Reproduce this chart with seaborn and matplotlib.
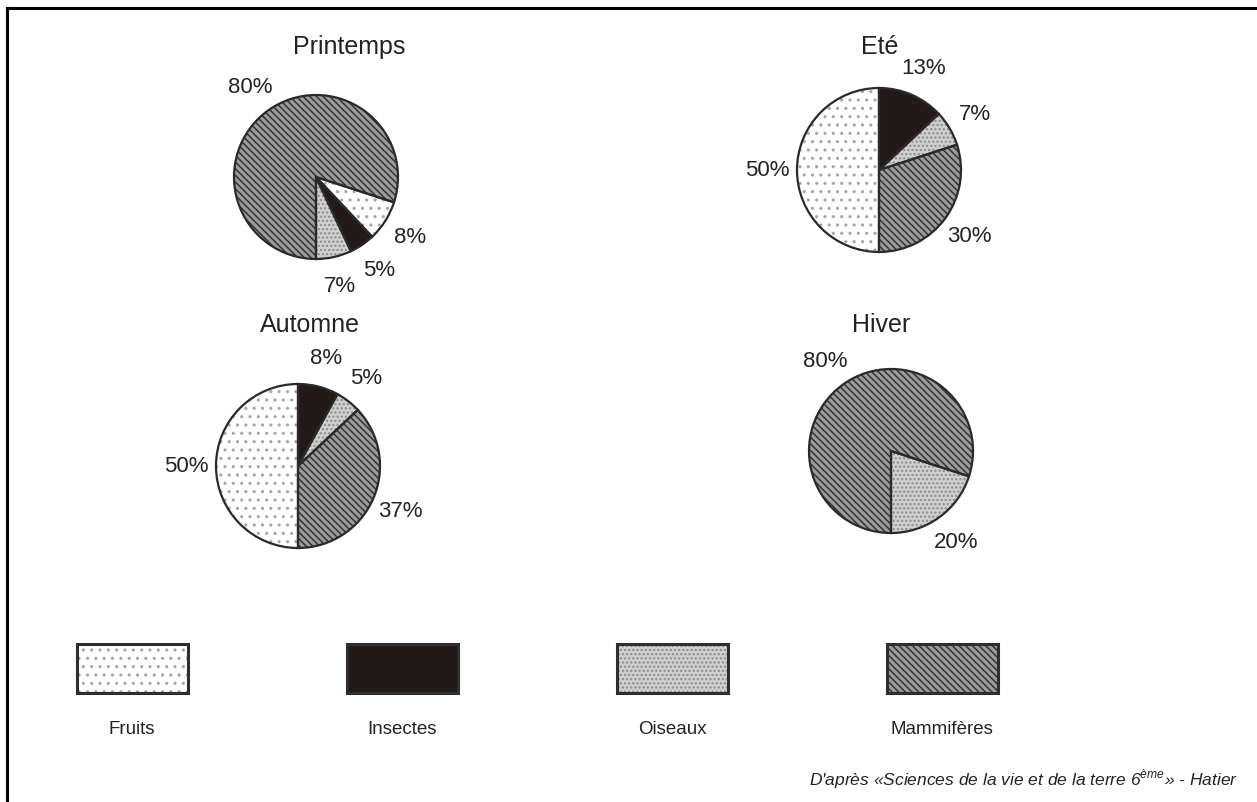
import matplotlib
matplotlib.use('Agg')
import matplotlib.pyplot as plt
from matplotlib.patches import Rectangle
import seaborn as sns

# data
categories = ['Fruits', 'Insectes', 'Oiseaux', 'Mammifères']
seasons = ['Printemps', 'Eté', 'Automne', 'Hiver']
printemps = [8, 5, 7, 80]
ete = [50, 13, 7, 30]
automne = [50, 8, 5, 37]
hiver = [0, 0, 20, 80]
source = "D'après «Sciences de la vie et de la terre 6$^{\\mathregular{ème}}$» - Hatier"

sns.set_theme(style='white')
plt.rcParams['font.family'] = ['Liberation Sans', 'DejaVu Sans']
plt.rcParams['hatch.linewidth'] = 1.1

W, H = 1257, 803
TXT = '#232323'

# fill styles per category: face, hatch, hatch colour
styles = {
    'Fruits': ('#ffffff', '..', '#a8a8a8'),
    'Insectes': ('#231a17', None, '#231a17'),
    'Oiseaux': ('#d0d0d0', '....', '#8c8c8c'),
    'Mammifères': ('#9c9c9c', '\\\\\\\\\\', '#333333'),
}

# per pie layout: centre (px), start angle, direction, slice order, title pos
layout = {
    'Printemps': ((316, 178), -90, True, [2, 1, 0, 3], (349, 47)),
    'Eté': ((879, 171), 90, False, [1, 2, 3, 0], (880, 47)),
    'Automne': ((298, 467), 90, False, [1, 2, 3, 0], (310, 325)),
    'Hiver': ((891, 452), -90, True, [2, 1, 0, 3], (881, 325)),
}
values = dict(zip(seasons, [printemps, ete, automne, hiver]))
R = 82

fig = plt.figure(figsize=(W / 100, H / 100), dpi=100)
ax = fig.add_axes([7 / W, 0, 1 - 7 / W, 1 - 9 / H])

for season in seasons:
    (cx, cy), start, ccw, order, tpos = layout[season]
    idx = [i for i in order if values[season][i] > 0]
    vals = [values[season][i] for i in idx]
    names = [categories[i] for i in idx]
    centre = (cx, H - cy)
    wedges, _ = ax.pie(vals, startangle=start, counterclock=ccw, center=centre,
                       radius=R, frame=True, wedgeprops=dict(linewidth=0))
    for w, n in zip(wedges, names):
        fc, hatch, hc = styles[n]
        w.set_facecolor(fc)
        w.set_edgecolor(hc)
        w.set_hatch(hatch)
    _, texts = ax.pie(vals, startangle=start, counterclock=ccw, center=centre,
                      radius=R, frame=True, labels=[f'{v}%' for v in vals],
                      labeldistance=1.36,
                      textprops=dict(fontsize=16, color=TXT),
                      wedgeprops=dict(facecolor='none', edgecolor='#2a2a2a',
                                      linewidth=1.6))
    for t in texts:
        t.set_horizontalalignment('center')
        t.set_verticalalignment('center')
    ax.text(tpos[0], H - tpos[1], season, fontsize=18, color=TXT,
            ha='center', va='center')

# legend boxes with names underneath
for k, name in enumerate(categories):
    fc, hatch, hc = styles[name]
    x0 = 77 + k * 270
    ax.add_patch(Rectangle((x0, H - 694), 111, 49, facecolor=fc, hatch=hatch,
                           edgecolor=hc, linewidth=0))
    ax.add_patch(Rectangle((x0, H - 694), 111, 49, facecolor='none',
                           edgecolor='#2e2e2e', linewidth=2.2))
    ax.text(x0 + 55, H - 730, name, fontsize=13.5, color=TXT,
            ha='center', va='center')

ax.text(1238, H - 779, source, fontsize=12.5, color=TXT, style='italic',
        ha='right', va='center')

ax.set_xlim(7, W)
ax.set_ylim(0, H - 9)
ax.set_aspect('auto')
ax.set_xticks([])
ax.set_yticks([])
for side in ['right', 'bottom']:
    ax.spines[side].set_visible(False)
for side in ['top', 'left']:
    ax.spines[side].set_visible(True)
    ax.spines[side].set_color('black')
    ax.spines[side].set_linewidth(2.2)

fig.savefig('out.png', dpi=100, facecolor='white')
